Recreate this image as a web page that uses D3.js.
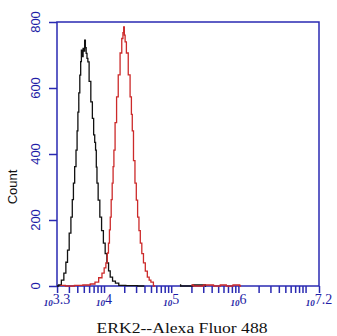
<!DOCTYPE html>
<html><head><meta charset="utf-8">
<script src="https://cdn.jsdelivr.net/npm/d3@7"></script>
<style>body{margin:0;background:#fff}svg{display:block}</style>
</head><body>
<script>
// log10 intensity and counts
const blackLog = [3.30, 3.345, 3.385, 3.419, 3.445, 3.468, 3.495, 3.519, 3.536, 3.553, 3.573, 3.593, 3.605, 3.617, 3.632, 3.647, 3.658, 3.668, 3.682, 3.695, 3.706, 3.717, 3.728, 3.740, 3.753, 3.766, 3.790, 3.817, 3.836, 3.855, 3.868, 3.880, 3.890, 3.900, 3.925, 3.950, 3.977, 4.004, 4.030, 4.055, 4.080, 4.104, 4.150, 4.189, 4.25, 4.40, 4.60];
const blackCount = [0, 3, 18, 39, 72, 109, 160, 209, 262, 312, 362, 412, 470, 527, 585, 639, 680, 715, 695, 720, 712, 745, 722, 705, 690, 679, 620, 558, 508, 458, 435, 412, 360, 312, 260, 209, 168, 130, 98, 70, 46, 27, 15, 9, 2, 1, 0];
const redLog = [3.35, 3.50, 3.62, 3.75, 3.84, 3.891, 3.95, 3.989, 4.015, 4.040, 4.058, 4.074, 4.087, 4.099, 4.114, 4.129, 4.141, 4.153, 4.176, 4.198, 4.225, 4.253, 4.275, 4.288, 4.297, 4.308, 4.320, 4.346, 4.375, 4.401, 4.414, 4.427, 4.450, 4.471, 4.490, 4.510, 4.530, 4.550, 4.575, 4.599, 4.630, 4.659, 4.685, 4.710, 4.76];
const redCount = [2, 0, 2, 3, 6, 12, 25, 39, 55, 70, 100, 130, 170, 209, 262, 312, 362, 412, 495, 573, 640, 706, 750, 768, 785, 760, 740, 706, 640, 573, 520, 470, 380, 312, 260, 209, 168, 130, 98, 70, 45, 27, 18, 12, 0];
// small scattered tail bins (log10 intensity, counts)
const blackTailLog = [5.13, 5.15, 5.50, 5.52];
const blackTailCount = [3, 0, 3, 0];
const redTailLog = [5.30, 5.36, 5.60, 5.66, 5.80, 5.84, 6.00, 6.04];
const redTailCount = [3, 0, 3, 0, 3, 0, 3, 0];
const yTicks = [0, 200, 400, 600, 800];
const xLabelExps = ["3.3", "4", "5", "6", "7.2"];
const xDomainExp = [3.3, 7.2];
const yDomain = [0, 800];
const xTitle = "ERK2--Alexa Fluor 488";
const yTitle = "Count";

const W = 337, H = 336;
const L = 57, R = 319, T = 22, B = 286;
const blue = "#2a2ab2", labelBlue = "#1e1ea6";

const svg = d3.select("body").append("svg").attr("width", W).attr("height", H);
const x = d3.scaleLog().domain(xDomainExp.map(e => Math.pow(10, e))).range([L, R]);
const y = d3.scaleLinear().domain(yDomain).range([B, T]);

// frame
svg.append("rect").attr("x", L).attr("y", T).attr("width", R - L).attr("height", B - T)
  .attr("fill", "none").attr("stroke", blue).attr("stroke-width", 1.5);

// y axis
const yAxis = svg.append("g").attr("transform", `translate(${L},0)`)
  .call(d3.axisLeft(y).tickValues(yTicks).tickSize(8).tickFormat(""));
yAxis.select(".domain").remove();
yAxis.selectAll("line").attr("stroke", blue).attr("stroke-width", 1.5);
svg.selectAll(".ylab").data(yTicks).enter().append("text")
  .attr("transform", d => `translate(40,${y(d)}) rotate(-90)`)
  .attr("text-anchor", "middle").attr("font-family", "Liberation Sans, Arial, sans-serif")
  .attr("font-size", 13).attr("fill", labelBlue).text(d => d);

// x axis ticks (log minor ticks)
const xt = [];
for (let n = 3; n <= 7; n++) for (let k = 1; k <= 9; k++) {
  const v = k * Math.pow(10, n);
  if (v >= x.domain()[0] * 0.999 && v <= x.domain()[1]) xt.push(v);
}
xt.push(x.domain()[1]);
const xAxis = svg.append("g").attr("transform", `translate(0,${B})`)
  .call(d3.axisBottom(x).tickValues(xt).tickSize(7).tickFormat(""));
xAxis.select(".domain").remove();
xAxis.selectAll("line").attr("stroke", blue).attr("stroke-width", 1.5);

const lab = svg.selectAll(".xlab").data(xLabelExps).enter().append("text")
  .attr("x", d => x(Math.pow(10, +d))).attr("y", 304)
  .attr("text-anchor", "middle").attr("fill", labelBlue)
  .attr("font-family", "Liberation Serif, Times New Roman, serif");
lab.append("tspan").attr("font-size", 9).attr("font-weight", "bold").attr("font-style", "italic").attr("dy", 2).text("10");
lab.append("tspan").attr("font-size", 14).attr("dy", -2).text(d => d);

// curves
const line = d3.line().curve(d3.curveStep)
  .x(d => x(Math.pow(10, d[0]))).y(d => y(d[1]));
const zip = (a, b) => a.map((v, i) => [v, b[i]]);
svg.append("path").datum(zip(blackLog, blackCount))
  .attr("d", line).attr("fill", "none").attr("stroke", "#111").attr("stroke-width", 1.3);
svg.append("path").datum(zip(redLog, redCount))
  .attr("d", line).attr("fill", "none").attr("stroke", "#cc2a2a").attr("stroke-width", 1.3);
svg.append("path").datum(zip(blackTailLog, blackTailCount))
  .attr("d", line).attr("fill", "none").attr("stroke", "#111").attr("stroke-width", 1.3);
svg.append("path").datum(zip(redTailLog, redTailCount))
  .attr("d", line).attr("fill", "none").attr("stroke", "#cc2a2a").attr("stroke-width", 1.3);

// titles
svg.append("text").attr("x", 182).attr("y", 333).attr("text-anchor", "middle")
  .attr("font-family", "Liberation Serif, Times New Roman, serif").attr("font-size", 15)
  .attr("textLength", 171).attr("lengthAdjust", "spacingAndGlyphs")
  .attr("fill", "#111").text(xTitle);
svg.append("text").attr("transform", "translate(17,187) rotate(-90)")
  .attr("text-anchor", "middle").attr("font-family", "Liberation Sans, Arial, sans-serif")
  .attr("font-size", 13).attr("fill", "#111").text(yTitle);
</script>
</body></html>
